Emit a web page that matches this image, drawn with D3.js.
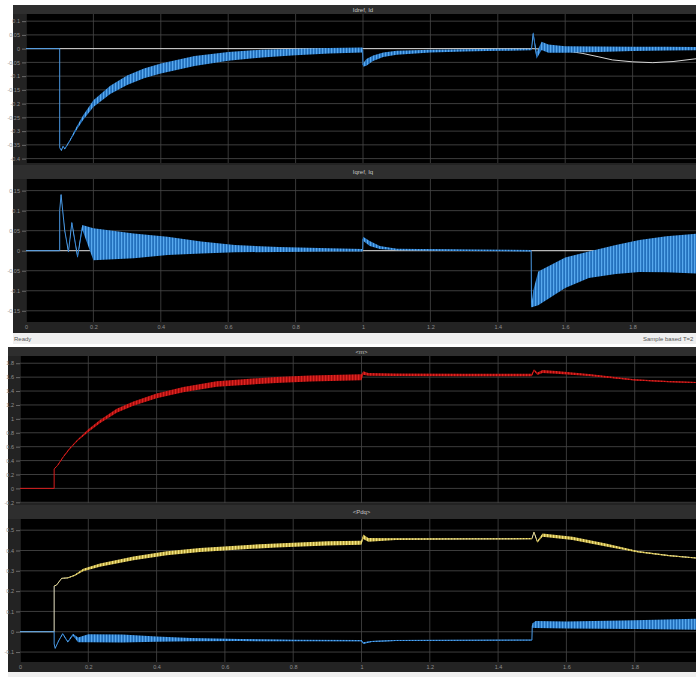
<!DOCTYPE html>
<html>
<head>
<meta charset="utf-8">
<title>Scope - Idref, Iq, m, Pdq</title>
<style>
  body { margin: 0; background: #fff; }
  svg { display: block; font-family: "Liberation Sans", Arial, sans-serif; }
  .tick text { fill: #8e8e8e; font-size: 5.5px; }
  .tick line { stroke: #6a6a6a; }
</style>
</head>
<body>
<script src="https://cdn.jsdelivr.net/npm/d3@7"></script>
<script>
// ---- data (time in s) ----
var timeTicks = [0, 0.2, 0.4, 0.6, 0.8, 1, 1.2, 1.4, 1.6, 1.8, 2];
var idTicks = [0.1, 0.05, 0, -0.05, -0.1, -0.15, -0.2, -0.25, -0.3, -0.35, -0.4];
var iqTicks = [0.15, 0.1, 0.05, 0, -0.05, -0.1, -0.15];
var mTicks = [1.8, 1.6, 1.4, 1.2, 1, 0.8, 0.6, 0.4, 0.2, 0, -0.2];
var pTicks = [0.5, 0.4, 0.3, 0.2, 0.1, 0, -0.1];

// Idref (white)
var idRefT = [0, 1.5, 1.55, 1.6, 1.65, 1.7, 1.74, 1.8, 1.86, 1.92, 2.0];
var idRefV = [0, 0, -0.003, -0.008, -0.017, -0.03, -0.041, -0.048, -0.051, -0.047, -0.035];
// Id (blue): centre and half width of the ripple band
var idT = [0, 0.1, 0.1, 0.105, 0.11, 0.115, 0.12, 0.13, 0.15, 0.17, 0.2, 0.25, 0.3, 0.35, 0.4, 0.5, 0.6, 0.7, 0.8, 0.9, 0.999, 1.0, 1.01, 1.03, 1.06, 1.1, 1.2, 1.3, 1.4, 1.499, 1.5, 1.505, 1.515, 1.53, 1.55, 1.6, 1.7, 1.8, 1.9, 2.0];
var idC = [0, 0, -0.36, -0.37, -0.355, -0.365, -0.355, -0.335, -0.29, -0.25, -0.2, -0.15, -0.115, -0.09, -0.072, -0.045, -0.028, -0.018, -0.012, -0.008, -0.005, -0.06, -0.05, -0.035, -0.022, -0.015, -0.009, -0.006, -0.004, -0.003, -0.002, 0.055, -0.025, 0.01, 0.0, -0.003, -0.002, -0.001, 0.0, 0.0];
var idW = [0, 0, 0.002, 0.002, 0.002, 0.002, 0.002, 0.003, 0.006, 0.009, 0.012, 0.015, 0.017, 0.018, 0.018, 0.018, 0.016, 0.014, 0.012, 0.01, 0.009, 0.006, 0.012, 0.01, 0.008, 0.007, 0.005, 0.004, 0.004, 0.003, 0.003, 0.006, 0.012, 0.015, 0.015, 0.012, 0.01, 0.008, 0.007, 0.006];

// Iqref (white) and Iq (blue)
var iqRefT = [0, 2.0];
var iqRefV = [0, 0];
var iqT = [0, 0.1, 0.1, 0.104, 0.115, 0.126, 0.136, 0.153, 0.167, 0.2, 0.32, 0.42, 0.52, 0.62, 0.75, 0.9, 0.999, 1.0, 1.02, 1.05, 1.1, 1.3, 1.499, 1.5, 1.505, 1.52, 1.6, 1.67, 1.75, 1.82, 1.9, 2.0];
var iqC = [0, 0, 0.1, 0.14, 0.05, -0.003, 0.07, -0.015, 0.058, 0.016, 0.012, 0.012, 0.008, 0.005, 0.003, 0.002, 0.001, 0.03, 0.018, 0.008, 0.003, 0.001, 0.0, -0.14, -0.12, -0.094, -0.055, -0.035, -0.022, -0.013, -0.009, -0.007];
var iqW = [0, 0, 0.001, 0.002, 0.002, 0.002, 0.003, 0.004, 0.006, 0.04, 0.031, 0.023, 0.015, 0.009, 0.006, 0.004, 0.003, 0.005, 0.006, 0.004, 0.002, 0.002, 0.002, 0.002, 0.02, 0.042, 0.038, 0.033, 0.036, 0.04, 0.045, 0.05];

// m (red)
var mT = [0, 0.1, 0.1, 0.11, 0.127, 0.146, 0.17, 0.2, 0.234, 0.283, 0.332, 0.4, 0.478, 0.576, 0.644, 0.75, 0.85, 0.999, 1.0, 1.005, 1.02, 1.1, 1.3, 1.499, 1.505, 1.515, 1.53, 1.57, 1.666, 1.8, 1.9, 2.0];
var mC = [0, 0, 0.28, 0.33, 0.455, 0.575, 0.7, 0.83, 0.96, 1.117, 1.22, 1.33, 1.42, 1.5, 1.525, 1.56, 1.58, 1.6, 1.6, 1.66, 1.64, 1.635, 1.63, 1.63, 1.70, 1.65, 1.68, 1.67, 1.63, 1.56, 1.535, 1.52];
var mW = [0, 0, 0.004, 0.005, 0.006, 0.008, 0.012, 0.02, 0.024, 0.028, 0.031, 0.035, 0.038, 0.04, 0.042, 0.043, 0.043, 0.043, 0.043, 0.025, 0.02, 0.018, 0.017, 0.017, 0.012, 0.018, 0.022, 0.02, 0.015, 0.01, 0.009, 0.008];

// Pdq: P (yellow) and Q (blue)
var pT = [0, 0.1, 0.1, 0.107, 0.122, 0.14, 0.16, 0.185, 0.234, 0.332, 0.43, 0.527, 0.644, 0.75, 0.9, 0.999, 1.0, 1.005, 1.02, 1.1, 1.3, 1.499, 1.505, 1.515, 1.53, 1.618, 1.716, 1.81, 1.9, 2.0];
var pC = [0, 0, 0.225, 0.23, 0.263, 0.265, 0.278, 0.304, 0.328, 0.361, 0.386, 0.402, 0.415, 0.425, 0.435, 0.438, 0.44, 0.468, 0.452, 0.456, 0.457, 0.458, 0.49, 0.443, 0.476, 0.46, 0.427, 0.394, 0.375, 0.36];
var pW = [0, 0, 0.001, 0.001, 0.001, 0.002, 0.003, 0.006, 0.008, 0.009, 0.01, 0.01, 0.01, 0.01, 0.01, 0.01, 0.01, 0.011, 0.009, 0.004, 0.003, 0.003, 0.003, 0.005, 0.008, 0.008, 0.007, 0.004, 0.003, 0.002];
var qT = [0, 0.1, 0.1, 0.103, 0.113, 0.125, 0.14, 0.155, 0.17, 0.2, 0.3, 0.4, 0.5, 0.644, 0.8, 0.999, 1.0, 1.005, 1.03, 1.1, 1.499, 1.5, 1.51, 1.6, 1.8, 2.0];
var qC = [0, 0, -0.06, -0.082, -0.045, -0.01, -0.05, -0.015, -0.04, -0.032, -0.033, -0.036, -0.039, -0.041, -0.043, -0.044, -0.044, -0.056, -0.048, -0.043, -0.041, 0.03, 0.036, 0.033, 0.035, 0.037];
var qW = [0, 0, 0.001, 0.001, 0.002, 0.002, 0.003, 0.005, 0.012, 0.02, 0.02, 0.013, 0.008, 0.005, 0.004, 0.003, 0.003, 0.004, 0.003, 0.002, 0.002, 0.01, 0.017, 0.017, 0.022, 0.028];

function zip(t, c, w) {
  return t.map(function(d, i) { return {t: d, c: c[i], w: w ? w[i] : 0}; });
}

var W = 696, H = 677;
var svg = d3.select('body').append('svg')
    .attr('width', W)
    .attr('height', H);

var defs = svg.append('defs');
// vertical striping to look like the fast ripple
function stripes(id, base, hi) {
  var p = defs.append('pattern')
      .attr('id', id)
      .attr('width', 3).attr('height', 6)
      .attr('patternUnits', 'userSpaceOnUse');
  p.append('rect').attr('width', 3).attr('height', 6).attr('fill', base);
  p.append('rect').attr('x', 1).attr('width', 1.2).attr('height', 6).attr('fill', hi);
}
stripes('stBlue', '#2471bd', '#58a9ee');
stripes('stRed', '#a80e0e', '#de2420');
stripes('stYel', '#bba640', '#f2e480');

// scope windows + status bars
svg.append('rect').attr('x', 13).attr('y', 5).attr('width', W - 13).attr('height', 328).attr('fill', '#232323');
svg.append('rect').attr('x', 13).attr('y', 333).attr('width', W - 13).attr('height', 11).attr('fill', '#efefef');
svg.append('rect').attr('x', 8).attr('y', 347).attr('width', W - 8).attr('height', 325).attr('fill', '#232323');
svg.append('rect').attr('x', 8).attr('y', 672).attr('width', W - 8).attr('height', 5).attr('fill', '#efefef');

svg.append('text').text('Ready').attr('x', 14).attr('y', 341).attr('font-size', 6).attr('fill', '#555');
svg.append('text').text('Sample based  T=2').attr('x', 643).attr('y', 341).attr('font-size', 6).attr('fill', '#555');

var fmt = function(d) { return String(+d.toFixed(2)); };

var panels = [
  {wx: 13, x0: 26, x1: 700, tb0: 5, tb1: 14, top: 14, bottom: 163, title: 'Idref, Id', dom: [-0.416, 0.126], ticks: idTicks, xlab: false,
   series: [
     {type: 'ref', data: zip(idRefT, idRefV)},
     {type: 'band', data: zip(idT, idC, idW), line: '#4a98e2', fill: 'url(#stBlue)'}
   ]},
  {wx: 13, x0: 26, x1: 700, tb0: 165, tb1: 179, top: 179, bottom: 322, title: 'Iqref, Iq', dom: [-0.178, 0.179], ticks: iqTicks, xlab: true,
   series: [
     {type: 'ref', data: zip(iqRefT, iqRefV)},
     {type: 'band', data: zip(iqT, iqC, iqW), line: '#4a98e2', fill: 'url(#stBlue)'}
   ]},
  {wx: 8, x0: 20, x1: 703, tb0: 347, tb1: 356, top: 356, bottom: 503, title: '<m>', dom: [-0.21, 1.904], ticks: mTicks, xlab: false,
   series: [
     {type: 'band', data: zip(mT, mC, mW), line: '#d41c1c', fill: 'url(#stRed)'}
   ]},
  {wx: 8, x0: 20, x1: 703, tb0: 505, tb1: 519, top: 519, bottom: 662, title: '<Pdq>', dom: [-0.149, 0.555], ticks: pTicks, xlab: true,
   series: [
     {type: 'band', data: zip(pT, pC, pW), line: '#e6e2c4', fill: 'url(#stYel)'},
     {type: 'band', data: zip(qT, qC, qW), line: '#4a98e2', fill: 'url(#stBlue)'}
   ]}
];

panels.forEach(function(p, k) {
  var x = d3.scaleLinear().domain([0, 2]).range([p.x0, p.x1]);
  var y = d3.scaleLinear().domain(p.dom).range([p.bottom, p.top]);

  // title bar
  svg.append('rect').attr('x', p.wx).attr('y', p.tb0).attr('width', W - p.wx).attr('height', p.tb1 - p.tb0).attr('fill', '#2e2e2e');
  svg.append('text').text(p.title)
      .attr('x', (p.x0 + p.x1) / 2).attr('y', (p.tb0 + p.tb1) / 2 + 2)
      .attr('text-anchor', 'middle').attr('font-size', 6).attr('fill', '#c4c4c4');

  // plot area
  svg.append('rect').attr('x', p.x0).attr('y', p.top).attr('width', p.x1 - p.x0).attr('height', p.bottom - p.top).attr('fill', '#000');

  var clipId = 'clip' + k;
  defs.append('clipPath').attr('id', clipId)
    .append('rect').attr('x', p.x0).attr('y', p.top).attr('width', p.x1 - p.x0).attr('height', p.bottom - p.top);

  var g = svg.append('g').attr('clip-path', 'url(#' + clipId + ')');

  // grid
  g.selectAll('.hgrid').data(p.ticks).enter().append('line')
      .attr('x1', p.x0).attr('x2', p.x1)
      .attr('y1', function(d) { return y(d); }).attr('y2', function(d) { return y(d); })
      .attr('stroke', '#4d4d4d').attr('stroke-width', 0.8);
  g.selectAll('.vgrid').data(timeTicks).enter().append('line')
      .attr('x1', function(d) { return x(d); }).attr('x2', function(d) { return x(d); })
      .attr('y1', p.top).attr('y2', p.bottom)
      .attr('stroke', '#464646').attr('stroke-width', 0.8);

  var line = d3.line().x(function(d) { return x(d.t); }).y(function(d) { return y(d.c); });
  var area = d3.area()
      .x(function(d) { return x(d.t); })
      .y0(function(d) { return y(d.c - d.w); })
      .y1(function(d) { return y(d.c + d.w); });

  p.series.forEach(function(s) {
    if (s.type == 'ref') {
      g.append('path').datum(s.data)
          .attr('d', line)
          .attr('fill', 'none')
          .attr('stroke', '#d6d6d6')
          .attr('stroke-width', 1);
    } else {
      // thin trace first, ripple band over it
      g.append('path').datum(s.data)
          .attr('d', line)
          .attr('fill', 'none')
          .attr('stroke', s.line)
          .attr('stroke-width', 1);
      g.append('path').datum(s.data)
          .attr('d', area)
          .attr('fill', s.fill)
          .attr('stroke', 'none');
    }
  });

  // y axis
  var ya = svg.append('g')
      .attr('transform', 'translate(' + p.x0 + ',0)')
      .call(d3.axisLeft(y).tickValues(p.ticks).tickSize(4).tickPadding(2).tickFormat(fmt));
  ya.select('.domain').remove();
  ya.selectAll('text').attr('font-family', null);

  if (p.xlab) {
    // the last label falls past the window edge, so only the visible ones are written
    var xa = svg.append('g')
        .attr('transform', 'translate(0,' + p.bottom + ')')
        .call(d3.axisBottom(x).tickValues(timeTicks.filter(function(d) { return x(d) < W - 6; }))
          .tickSize(0).tickPadding(3).tickFormat(fmt));
    xa.select('.domain').remove();
  }
});
</script>
</body>
</html>
